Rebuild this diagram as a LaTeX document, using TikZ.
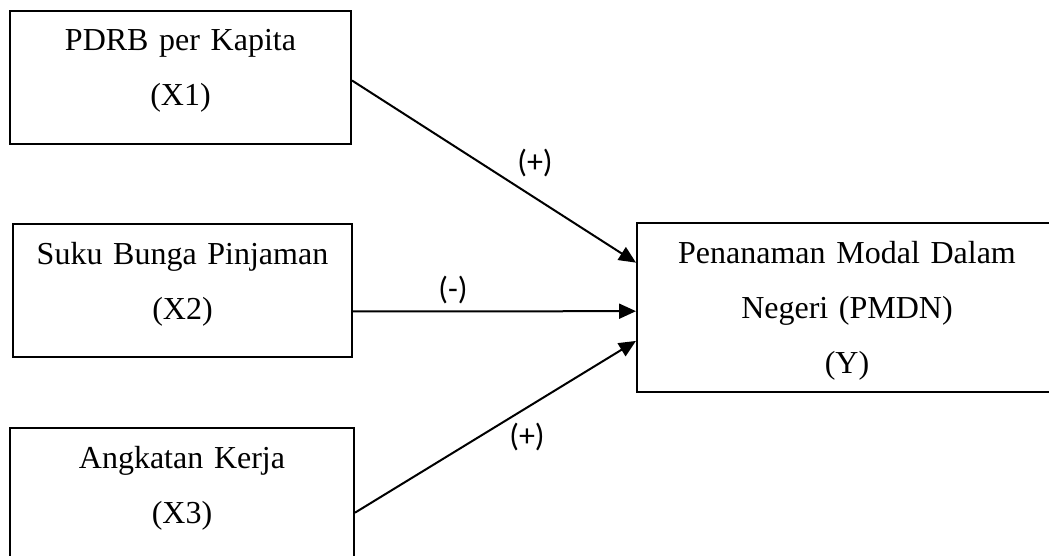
\documentclass[tikz,border=0pt]{standalone}
\usepackage{fontspec}
\setmainfont{Liberation Serif}
\newfontfamily\lblfont{Carlito}
\usetikzlibrary{arrows.meta}

\begin{document}
\begin{tikzpicture}[x=0.5pt, y=-0.5pt,
	varbox/.style={rectangle, draw, line width=1pt, anchor=north west, inner sep=0pt, align=center,
		text height=20pt, text depth=46.5pt, font=\fontsize{16pt}{27.5pt}\selectfont},
	sign/.style={font=\lblfont\fontsize{16pt}{19pt}\selectfont, inner sep=1pt},
	link/.style={line width=1pt, -{Triangle[length=8.5pt, width=7.5pt]}}]
	\useasboundingbox (0,0) rectangle (1049,556);
	\clip (0,0) rectangle (1049,556);
	% Place nodes
	\node [varbox, text width=170.5pt] (x1) at (9,10) {PDRB per Kapita\\(X1)};
	\node [varbox, text width=169.5pt] (x2) at (12,223) {Suku Bunga Pinjaman\\(X2)};
	\node [varbox, text width=172pt] (x3) at (9,427) {Angkatan Kerja\\(X3)};
	\node [varbox, text width=210pt, text depth=64.5pt] (y) at (636,222) {Penanaman Modal Dalam\\Negeri (PMDN)\\(Y)};
	
	\node [sign] (s1) at (535,163) {(+)};
	\node [sign] (s2) at (453,290) {(-)};
	\node [sign] (s3) at (527,437) {(+)};
	
	% Arrows
	\draw [link] (x1.-1.85) -- (y.168.3);
	\draw [link] (x2.-7.56) -- (y.181.5);
	\draw [link] (x3.-6.47) -- (y.189.6);
\end{tikzpicture}
\end{document}
